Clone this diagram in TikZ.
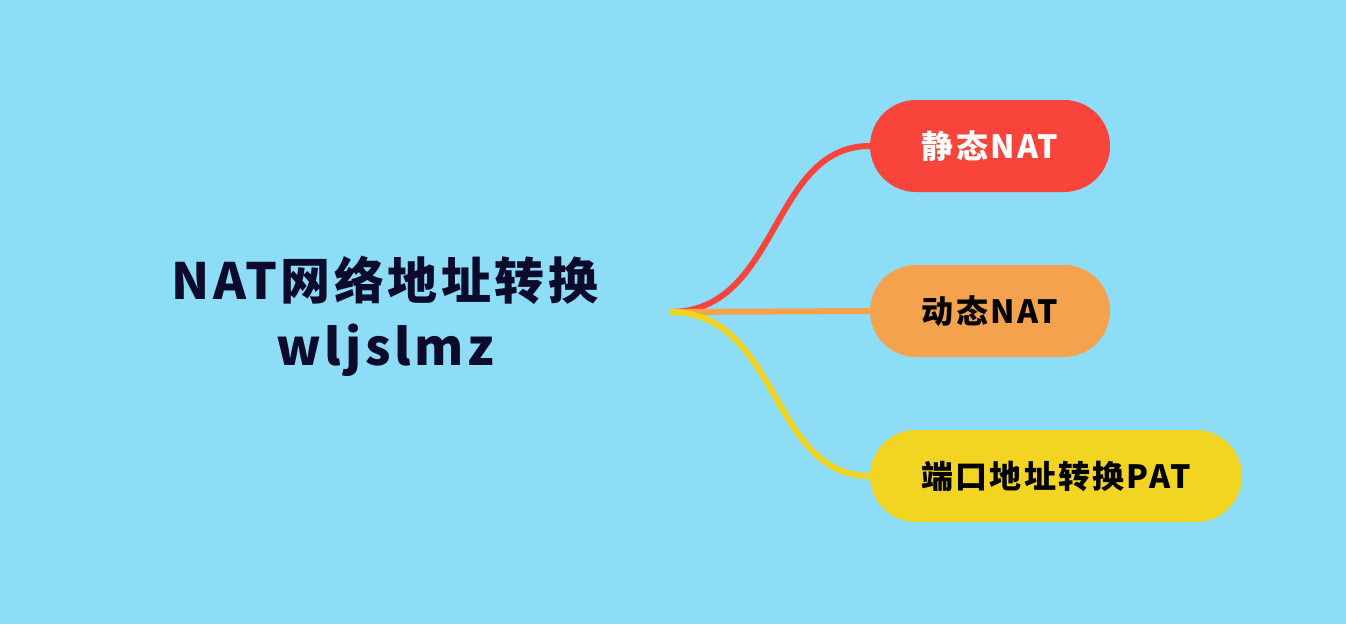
\documentclass[tikz,border=0pt]{standalone}
\usepackage{fontspec}
\usepackage{xcolor}
\usepackage{tikz}
\setmainfont{Noto Sans CJK SC}[LetterSpace=7]
\definecolor{skyblue}{HTML}{8EDDF7}
\definecolor{navy}{HTML}{0D0B2C}
\definecolor{nodered}{HTML}{F9443C}
\definecolor{nodeorange}{HTML}{F5A24E}
\definecolor{nodeyellow}{HTML}{F2D422}

\tikzset{
  topic/.style={rounded corners=46pt, minimum height=92pt, inner xsep=40pt,
                font=\bfseries\fontsize{32}{38}\selectfont},
  branch/.style={line width=6pt}
}

\begin{document}
\begin{tikzpicture}[x=1pt, y=-1pt]
    \fill[skyblue] (0,0) rectangle (1346,624);
    \useasboundingbox (0,0) rectangle (1346,624);

    \node[text=navy, align=center, font=\bfseries\fontsize{50}{66}\selectfont]
      (root) at (385,316) {NAT网络地址转换\\wljslmz};
    \coordinate (hub) at (670,312);

    \node[topic, fill=nodered, text=white, minimum width=240pt] (static) at (990,146) {静态NAT};
    \node[topic, fill=nodeorange, text=black, minimum width=240pt] (dynamic) at (990,311) {动态NAT};
    \node[topic, fill=nodeyellow, text=black, minimum width=372pt] (pat) at (1056,476) {端口地址转换PAT};

    % branches from the hub
    \draw[branch, nodered] (hub) .. controls +(110,0) and +(-100,0) .. (static.west);
    \draw[branch, nodeorange] (hub) -- (dynamic.west);
    \draw[branch, nodeyellow] (hub) .. controls +(110,0) and +(-100,0) .. (pat.west);
  \end{tikzpicture}
\end{document}
